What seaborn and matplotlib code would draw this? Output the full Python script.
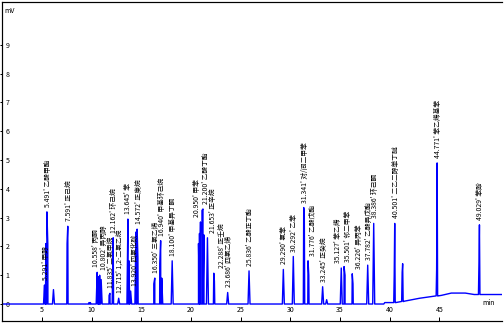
import numpy as np
import pandas as pd
import matplotlib
matplotlib.use("Agg")
import matplotlib.pyplot as plt
import seaborn as sns

# Peak apexes: retention time (min) and signal (mV)
peak_times = [5.25, 5.38, 5.491, 5.58, 6.15, 7.52, 7.591, 9.75, 9.85,
              10.55, 10.68, 10.80, 10.95, 11.75, 11.835, 12.10, 12.162, 12.715,
              13.645, 13.75, 13.920, 14.45, 14.572, 14.65, 16.25, 16.35,
              16.85, 16.940, 17.05, 18.100, 20.75, 20.85, 20.95, 21.10, 21.20,
              21.30, 21.65, 22.288, 22.35, 23.686, 25.836, 29.290, 30.292,
              31.341, 31.40, 31.776, 31.85, 33.245, 33.65, 35.12, 35.40, 35.50,
              36.226, 36.30, 37.782, 38.386, 40.45, 40.501, 41.25, 41.30,
              44.72, 44.771, 48.98, 49.029]
peak_heights = [0.66, 2.1, 3.2, 2.1, 0.5, 2.1, 2.7, 0.05, 0.05,
                1.1, 0.95, 1.0, 0.85, 0.3, 0.37, 1.0, 2.3, 0.2,
                2.95, 1.5, 0.45, 2.5, 2.6, 1.6, 0.7, 0.9,
                1.4, 2.2, 0.9, 1.5, 2.1, 2.45, 2.85, 3.25, 3.3,
                2.4, 2.3, 1.07, 0.8, 0.4, 1.15, 1.2, 1.65,
                3.35, 3.1, 1.5, 1.0, 0.6, 0.15, 1.25, 1.3, 1.0,
                1.05, 0.7, 1.35, 2.8, 1.0, 2.8, 1.1, 1.4,
                1.2, 4.9, 1.4, 2.75]

# Drifting baseline (min, mV)
base_times = [1.0, 39.4, 39.5, 40.6, 41.5, 43.0, 44.0, 45.2, 46.2, 47.6, 48.5, 51.3]
base_values = [0.0, 0.0, 0.05, 0.05, 0.1, 0.2, 0.25, 0.3, 0.38, 0.38, 0.33, 0.33]

# Peak identifications: retention time and compound name
label_times = [5.25, 5.491, 7.591, 10.55, 10.80, 11.835, 12.162, 12.715,
               13.645, 13.920, 14.572, 16.35, 16.940, 18.100, 20.95, 21.20,
               21.65, 22.288, 23.686, 25.836, 29.290, 30.292, 31.341, 31.776,
               33.245, 35.12, 35.40, 36.226, 37.782, 38.386, 40.501, 44.771, 49.029]
label_texts = ["5.291' 甲醇", "5.491' 乙酸甲酯", "7.591' 正己烷", "10.558' 丙酮",
               "10.802' 异丙醇", "11.835' 二氯甲烷", "12.162' 环己烷", "12.715' 1,2-二氯乙烷",
               "13.645' 苯", "13.920' 四氯化碳", "14.572' 正庚烷", "16.350' 三氯乙烯",
               "16.940' 甲基环己烷", "18.100' 甲基异丁酮", "20.950' 甲苯", "21.200' 乙酸丁酯",
               "21.653' 正辛烷", "22.288' 正壬烷", "23.686' 四氯乙烯", "25.836' 乙酸正丁酯",
               "29.290' 氯苯", "30.292' 乙苯", "31.341' 对/间二甲苯", "31.776' 乙酸戊酯",
               "33.245' 正癸烷", "35.127' 苯乙烯", "35.501' 邻二甲苯", "36.226' 异丙苯",
               "37.782' 乙酸异戊酯", "38.386' 环己酮", "40.501' 二乙二醇单丁醚", "44.771' 苯乙烯基苯",
               "49.029' 苯酚"]

x_ticks = [5, 10, 15, 20, 25, 30, 35, 40, 45]
y_ticks = [0, 1, 2, 3, 4, 5, 6, 7, 8, 9]

# Build the trace: each peak is a narrow spike standing on the baseline
half_width = 0.1
pts_t = list(base_times)
pts_v = list(base_values)
for t, h in zip(peak_times, peak_heights):
    b = float(np.interp(t, base_times, base_values))
    pts_t += [t - half_width, t, t + half_width]
    pts_v += [b, h, b]
trace = pd.DataFrame({"time": pts_t, "signal": pts_v}).sort_values("time")

sns.set_theme(style="white")
plt.rcParams["font.family"] = ["Noto Sans CJK SC", "DejaVu Sans"]

fig = plt.figure(figsize=(7.0, 4.5), dpi=72)
ax = fig.add_axes([2.3 / 504, 3 / 324, 499.7 / 504, 319 / 324])
sns.lineplot(data=trace, x="time", y="signal", estimator=None, sort=False,
             color="#0000ff", linewidth=1.4, ax=ax)

ax.set_xlim(1.0, 51.3)
ax.set_ylim(-0.59, 10.49)
ax.set_xlabel("")
ax.set_ylabel("")
ax.set_xticks(x_ticks)
ax.set_xticklabels([str(v) for v in x_ticks])
ax.set_yticks(y_ticks)
ax.set_yticklabels([str(v) for v in y_ticks])
ax.tick_params(axis="x", direction="in", length=4, width=1, pad=-14.5,
               labelsize=7, colors="black", bottom=True)
ax.tick_params(axis="y", direction="out", length=2, width=1, pad=-9,
               labelsize=7, colors="black", left=True)

for side in ["left", "top", "bottom"]:
    ax.spines[side].set_visible(True)
    ax.spines[side].set_color("black")
    ax.spines[side].set_linewidth(1.2)
ax.spines["right"].set_visible(False)

ax.text(0.004, 0.985, "mV", transform=ax.transAxes, fontsize=7,
        ha="left", va="top", color="black")
ax.text(0.985, 0.055, "min", transform=ax.transAxes, fontsize=7,
        ha="right", va="center", color="black")

# Sideways nudges (points) that spread labels in crowded clusters
nudge = {10.55: -2.5, 10.80: 3.5, 13.645: -1, 13.920: 3, 20.95: -4, 21.20: 2,
         21.65: 5, 22.288: 6, 35.12: -4, 35.40: 3, 36.226: 6, 31.776: 3}
height_at = dict(zip(peak_times, peak_heights))
for t, txt in zip(label_times, label_texts):
    ax.annotate(txt, xy=(t, height_at[t]), xytext=(1 + nudge.get(t, 0), 5),
                textcoords="offset points", rotation=90, ha="center", va="bottom",
                fontsize=6.8, color="black")

fig.savefig("out.png", dpi=72)
